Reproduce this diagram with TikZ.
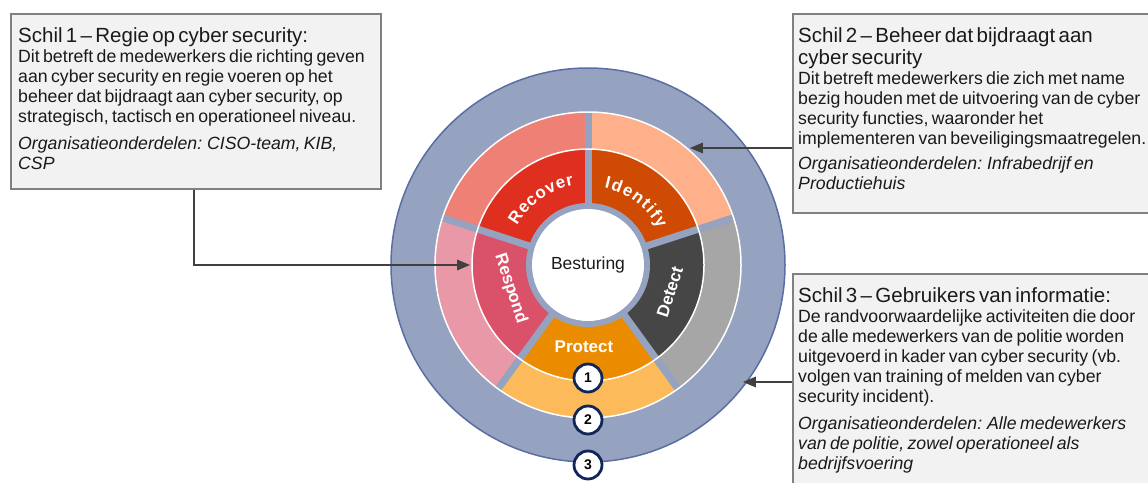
\documentclass[tikz,border=0pt]{standalone}
\usepackage{fontspec}
\setmainfont{Liberation Sans}
\usepackage{tikz}
\usetikzlibrary{arrows,positioning,decorations.text}

\definecolor{shell}{HTML}{95A2C0}
\definecolor{shellline}{HTML}{5A6EA3}
\definecolor{recoverin}{HTML}{DF2F1F}
\definecolor{recoverout}{HTML}{EE8075}
\definecolor{identifyin}{HTML}{CF4B03}
\definecolor{identifyout}{HTML}{FDB08A}
\definecolor{detectin}{HTML}{464646}
\definecolor{detectout}{HTML}{A6A6A6}
\definecolor{protectin}{HTML}{EB8C00}
\definecolor{protectout}{HTML}{FDBA5A}
\definecolor{respondin}{HTML}{DA526A}
\definecolor{respondout}{HTML}{E898A6}
\definecolor{navy}{HTML}{102659}
\definecolor{boxfill}{HTML}{F2F2F2}
\definecolor{boxline}{HTML}{808080}
\definecolor{arrowgray}{HTML}{404040}
\definecolor{ink}{HTML}{1A1A1A}

\newcommand{\schiltitle}{\fontsize{20.5}{22.5}\selectfont}
\newcommand{\schilbody}{\fontsize{17.7}{20}\selectfont}
\newcommand{\segfont}{\bfseries\fontsize{17}{17}\selectfont}

\tikzset{schilbox/.style={draw=boxline,line width=1.5pt,fill=boxfill,minimum width=370,minimum height=175,anchor=north west,inner sep=0},
	schiltext/.style={text width=380,align=left,inner sep=0,text=ink},
	seglabel/.style={text=white,font=\segfont,inner sep=0}}

\begin{document}
\begin{tikzpicture}[x=1pt,y=1pt,>=triangle 45]
	\tikzstyle{num}=[circle,draw=navy,line width=2.8pt,fill=white,minimum size=28,inner sep=0,
	font=\bfseries\fontsize{14}{14}\selectfont]
	\tikzstyle{pointer}=[->,line width=2pt,draw=arrowgray]
	
	\useasboundingbox (0,0) rectangle (1148,-482);
	
	\coordinate (c) at (588,-265);
	
	% schil 3
	\fill[shell] (c) circle (197);
	\draw[shellline,line width=1.5pt] (c) circle (197);
	
	% schil 2 and schil 1
	\foreach \a/\outer/\inner in {18/identifyout/identifyin,90/recoverout/recoverin,
		162/respondout/respondin,234/protectout/protectin,306/detectout/detectin}{
		\fill[\outer] (c) -- ++(\a:153) arc (\a:\a+72:153) -- cycle;
		\fill[\inner] (c) -- ++(\a:116) arc (\a:\a+72:116) -- cycle;
	}
	\foreach \a in {18,90,...,306}
		\draw[shell,line width=7pt] (c) -- ++(\a:153);
	\draw[white,line width=1.5pt] (c) circle (116) (c) circle (153);
	
	% besturing
	\fill[shell] (c) circle (62);
	\node[circle,fill=white,minimum size=112,inner sep=0,text=ink,
	font=\fontsize{17.5}{17.5}\selectfont] (besturing) at (c) {Besturing};
	
	\path[decorate,decoration={text along path,text color=white,text align={fit to path},
		text={|\segfont|Recover}}] ([shift={(151:81)}]c) arc (151:100:81);
	\path[decorate,decoration={text along path,text color=white,text align={fit to path},
		text={|\segfont|Identify}}] ([shift={(78:79)}]c) arc (78:27:79);
	\node[seglabel,rotate=72] (detect) at ([shift={(-18:86)}]c) {Detect};
	\node[seglabel] (protect) at ([shift={(-4,-82)}]c) {Protect};
	\node[seglabel,rotate=-72] (respond) at ([shift={(197:81)}]c) {Respond};
	
	\node[num] (one) at (588,-378) {1};
	\node[num] (two) at (588,-420) {2};
	\node[num] (three) at (588,-465) {3};
	
	% kaders
	\node[schilbox] (box1) at (10,-13) {};
	\node[schilbox,minimum width=380,minimum height=199] (box2) at (792,-13) {};
	\node[schilbox,minimum width=380,minimum height=230] (box3) at (792,-273) {};
	
	\node[schiltext,below right=14pt and 8pt of box1.north west] (schil1) {%
		{\schiltitle Schil 1 – Regie op cyber security:\par}
		{\schilbody Dit betreft de medewerkers die richting geven\\
			aan cyber security en regie voeren op het\\
			beheer dat bijdraagt aan cyber security, op\\
			strategisch, tactisch en operationeel niveau.\par}
		\vspace{7pt}
		{\schilbody\itshape Organisatieonderdelen: CISO-team, KIB,\\
			CSP\par}};
	\node[schiltext,below right=14pt and 6pt of box2.north west] (schil2) {%
		{\schiltitle Schil 2 – Beheer dat bijdraagt aan\\
			cyber security\par}
		{\schilbody Dit betreft medewerkers die zich met name\\
			bezig houden met de uitvoering van de cyber\\
			security functies, waaronder het\\
			implementeren van beveiligingsmaatregelen.\par}
		\vspace{5pt}
		{\schilbody\itshape Organisatieonderdelen: Infrabedrijf en\\
			Productiehuis\par}};
	\node[schiltext,below right=14pt and 6pt of box3.north west] (schil3) {%
		{\schiltitle Schil 3 – Gebruikers van informatie:\par}
		{\schilbody De randvoorwaardelijke activiteiten die door\\
			de alle medewerkers van de politie worden\\
			uitgevoerd in kader van cyber security (vb.\\
			volgen van training of melden van cyber\\
			security incident).\par}
		\vspace{7pt}
		{\schilbody\itshape Organisatieonderdelen: Alle medewerkers\\
			van de politie, zowel operationeel als\\
			bedrijfsvoering\par}};
	
	% pijlen
	\coordinate (respondtip) at (470,-265);
	\coordinate (identifytip) at (690,-148);
	\coordinate (shelltip) at (743,-382);
	
	\draw[pointer] ([xshift=184pt]box1.south west) |- (respondtip);
	\draw[pointer] (box2.west |- identifytip) -- (identifytip);
	\draw[pointer] (box3.west |- shelltip) -- (shelltip);
\end{tikzpicture}
\end{document}
